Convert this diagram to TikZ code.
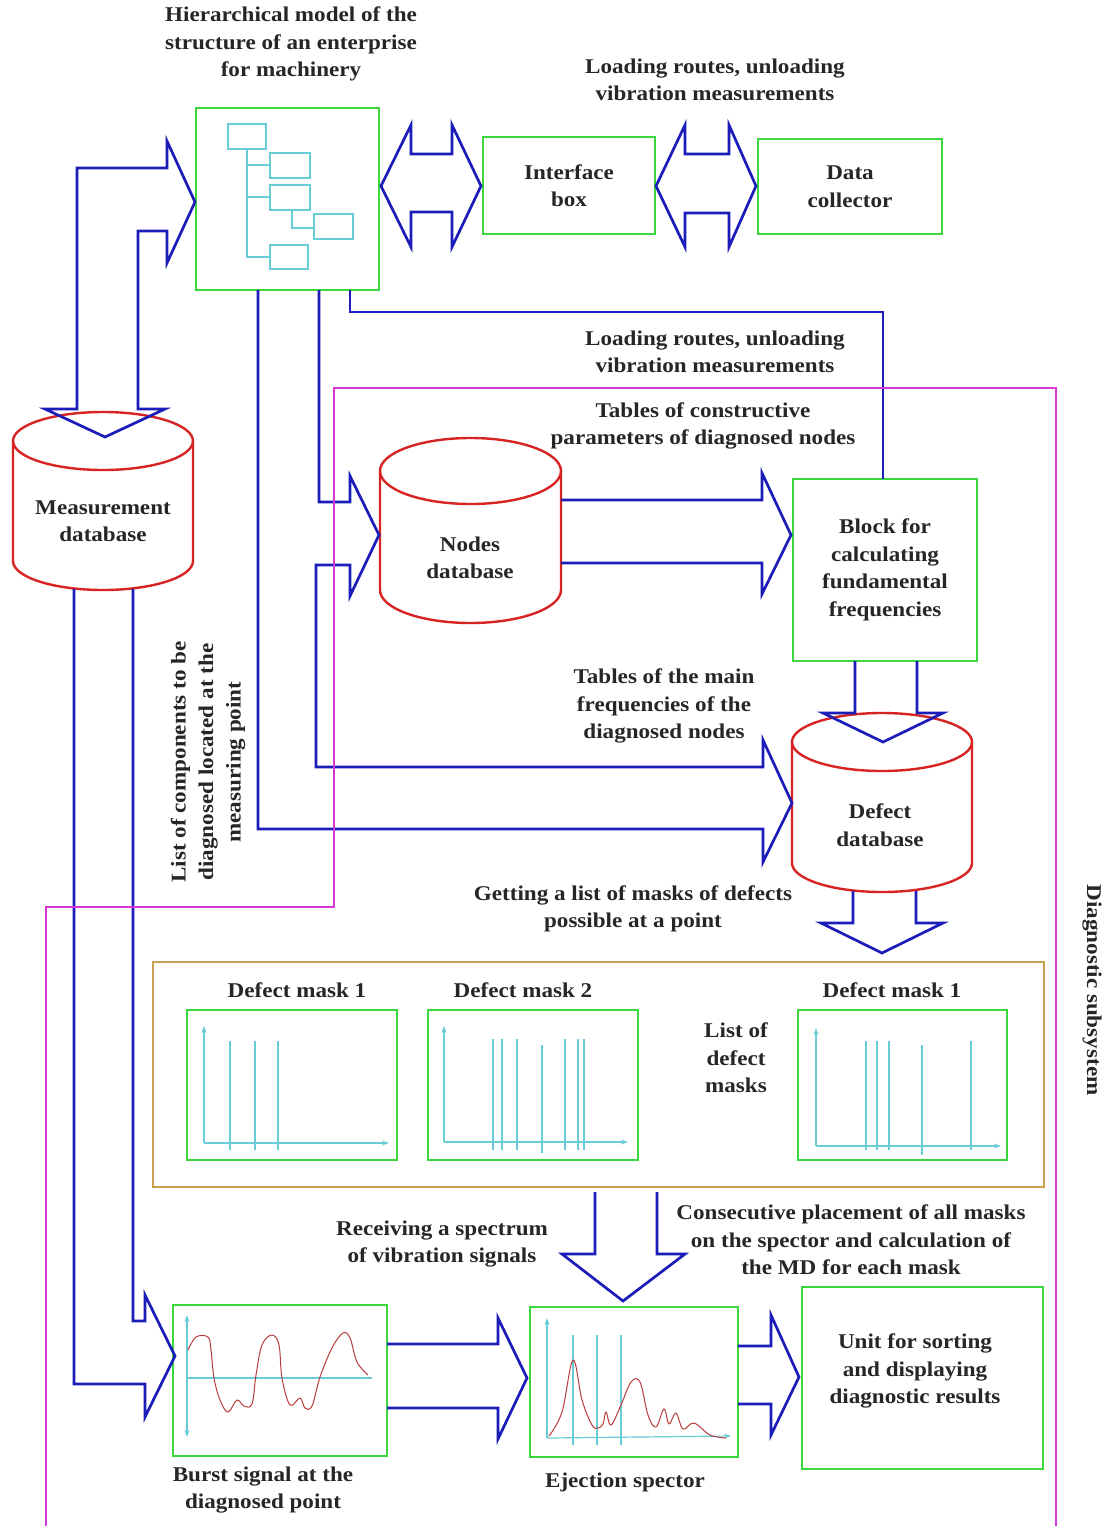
\documentclass[tikz,border=0pt]{standalone}
\usepackage{fontspec}
\setmainfont{Liberation Serif}[FakeStretch=1.1]
\usetikzlibrary{arrows.meta}
\definecolor{arrblue}{RGB}{28,28,185}
\definecolor{boxgreen}{RGB}{60,215,60}
\definecolor{dbred}{RGB}{215,35,35}
\definecolor{cyanl}{RGB}{105,205,215}
\definecolor{tanc}{RGB}{200,160,80}
\definecolor{magc}{RGB}{215,55,215}
\definecolor{wavered}{RGB}{185,60,60}
\newcommand\dbcyl[5]{%
  \draw[dbline] (#1,#2) ellipse [x radius=#4, y radius=#5];
  \draw[dbline] (#1-#4,#2) -- (#1-#4,#3)
     .. controls (#1-#4,#3+0.5523*#5) and (#1-0.5523*#4,#3+#5) .. (#1,#3+#5)
     .. controls (#1+0.5523*#4,#3+#5) and (#1+#4,#3+0.5523*#5) .. (#1+#4,#3)
     -- (#1+#4,#2);}
\begin{document}
\begin{tikzpicture}[x=1pt,y=-1pt,
  barrow/.style={draw=arrblue,line width=2.7pt,line join=miter},
  gbox/.style={draw=boxgreen,line width=2.8pt,inner sep=0pt},
  dbline/.style={draw=dbred,line width=2.4pt},
  thin/.style={draw=cyanl,line width=1.2pt},
  axis/.style={draw=cyanl,line width=1.2pt,-{Stealth[length=7pt,width=5pt]}},
  wave/.style={draw=wavered,line width=1pt},
  lbl/.style={font=\bfseries\fontsize{21}{27.5}\selectfont,align=center,inner sep=0pt,text=black!85}]
\useasboundingbox[fill=white] (0,0) rectangle (1105,1526);

% ---------- boxes ----------
\node[gbox,minimum width=183,minimum height=182] (hier) at (287.5,199) {};
\node[gbox,minimum width=172,minimum height=97,lbl] (iface) at (569,185.5) {Interface\\box};
\node[gbox,minimum width=184,minimum height=95,lbl] (coll) at (850,186.5) {Data\\collector};
\node[gbox,minimum width=184,minimum height=182,lbl] (calc) at (885,570) {Block for\\calculating\\fundamental\\frequencies};
\node[gbox,minimum width=241,minimum height=182] (unit) at (922.5,1378) {};
\node[lbl] (unitt) at (915,1371) {Unit for sorting\\and displaying\\diagnostic results};
\node[draw=tanc,line width=2.4pt,minimum width=891,minimum height=225,inner sep=0pt] (list) at (598.5,1074.5) {};
\node[gbox,minimum width=210,minimum height=150] (m1) at (292,1085) {};
\node[gbox,minimum width=210,minimum height=150] (m2) at (533,1085) {};
\node[gbox,minimum width=209,minimum height=150] (m3) at (902.5,1085) {};
\node[gbox,minimum width=214,minimum height=151] (burst) at (280,1380.5) {};
\node[gbox,minimum width=208,minimum height=150] (eject) at (634,1382) {};

% ---------- hierarchy tree ----------
\foreach \a/\b/\c/\d in {228/124/266/149,270/153/310/178,270/185/310/210,314/214/353/239,270/245/308/269}
  \draw[thin] (\a,\b) rectangle (\c,\d);
\draw[thin] (247,149) -- (247,257) -- (270,257);
\draw[thin] (247,165) -- (270,165);
\draw[thin] (247,197) -- (270,197);
\draw[thin] (292,210) -- (292,228) -- (314,228);

% ---------- databases ----------
\dbcyl{103}{441}{561}{90}{29}
\dbcyl{470.5}{471}{590}{90.5}{33}
\dbcyl{882}{742}{863}{90}{29}
\node[lbl] (mdb) at (103,521) {Measurement\\database};
\node[lbl] (ndb) at (470,558) {Nodes\\database};
\node[lbl] (ddb) at (880,825) {Defect\\database};

% ---------- block arrows ----------
\draw[barrow] (77,409) -- (77,168) -- (167,168) -- (167,141) -- (195,202) -- (167,263) -- (167,231)
  -- (138,231) -- (138,409) -- (165,409) -- (105,437) -- (45,409) -- cycle;
\draw[barrow] (411,154) -- (411,125) -- (381,186) -- (411,247) -- (411,212) -- (452,212)
  -- (452,247) -- (481,186) -- (452,125) -- (452,154) -- cycle;
\draw[barrow] (685,154) -- (685,125) -- (656,186) -- (685,247) -- (685,213) -- (729,213)
  -- (729,247) -- (756,186) -- (729,125) -- (729,154) -- cycle;
\draw[barrow] (350,290) -- (350,312) -- (883,312) -- (883,479);
\draw[barrow] (319,290) -- (319,502) -- (350,502) -- (350,476) -- (379,535) -- (350,596) -- (350,565)
  -- (316,565) -- (316,767) -- (763,767) -- (763,740) -- (792,803) -- (763,862) -- (763,829)
  -- (258,829) -- (258,290);
\draw[barrow] (561,500) -- (762,500) -- (762,473) -- (791,535) -- (762,594) -- (762,563) -- (561,563);
\draw[barrow] (855,661) -- (855,713) -- (823,713) -- (883,742) -- (943,713) -- (917,713) -- (917,661);
\draw[barrow] (853,891) -- (853,923) -- (821,923) -- (882,953) -- (943,923) -- (916,923) -- (916,891);
\draw[barrow] (595,1192) -- (595,1254) -- (562,1254) -- (623,1301) -- (685,1254) -- (657,1254) -- (657,1192);
\draw[barrow] (133,589) -- (133,1321) -- (145,1321) -- (145,1295) -- (175,1356) -- (145,1417) -- (145,1384)
  -- (74,1384) -- (74,589);
\draw[barrow] (387,1344) -- (498,1344) -- (498,1318) -- (527,1378) -- (498,1439) -- (498,1408) -- (387,1408);
\draw[barrow] (738,1346) -- (771,1346) -- (771,1315) -- (799,1377) -- (771,1435) -- (771,1404) -- (738,1404);

% ---------- subsystem border ----------
\draw[draw=magc,line width=2.4pt] (46,1526) -- (46,907) -- (334,907) -- (334,388) -- (1056,388) -- (1056,1526);

% ---------- mask graphs ----------
\draw[axis] (204,1143) -- (204,1026);
\draw[axis] (204,1143) -- (389,1143);
\foreach \x in {230,255,278} \draw[thin] (\x,1041) -- (\x,1150);
\draw[axis] (444,1142) -- (444,1026);
\draw[axis] (444,1142) -- (628,1142);
\foreach \x in {493,502,517,565,578,584} \draw[thin] (\x,1039) -- (\x,1150);
\draw[thin] (542,1045) -- (542,1153);
\draw[axis] (816,1146) -- (816,1028);
\draw[axis] (816,1146) -- (1001,1146);
\foreach \x in {866,877,889,971} \draw[thin] (\x,1041) -- (\x,1150);
\draw[thin] (922,1045) -- (922,1155);

% ---------- burst signal ----------
\draw[thin,{Stealth[length=7pt,width=5pt]}-{Stealth[length=7pt,width=5pt]}] (187,1315) -- (187,1437);
\draw[thin] (187,1378) -- (372,1378);
\draw[wave] plot[smooth,tension=0.6] coordinates {(188,1350) (196,1337) (208,1337) (211,1350) (214,1378) (220,1400) (228,1412)
  (237,1400) (244,1406) (252,1404) (256,1375) (262,1345) (272,1335) (279,1345) (282,1378) (290,1405)
  (300,1398) (305,1408) (312,1406) (320,1377) (332,1348) (343,1333) (350,1338) (357,1362) (368,1375)};

% ---------- ejection spectrum ----------
\draw[axis] (547,1438) -- (547,1318);
\draw[axis] (547,1438) -- (731,1436);
\foreach \x in {573,597,621} \draw[thin] (\x,1335) -- (\x,1445);
\draw[wave] plot[smooth,tension=0.6] coordinates {(549,1436) (562,1412) (573,1360) (582,1400) (592,1425) (598,1428)
  (603,1424) (606,1412) (611,1425) (621,1405) (631,1382) (640,1382) (648,1415) (656,1427) (664,1409)
  (669,1424) (676,1413) (683,1429) (694,1423) (710,1435) (726,1438)};

% ---------- labels ----------
\node[lbl] (t1) at (291,44) {Hierarchical model of the\\structure of an enterprise\\for machinery};
\node[lbl] (t2) at (715,80) {Loading routes, unloading\\vibration measurements};
\node[lbl] (t3) at (715,352) {Loading routes, unloading\\vibration measurements};
\node[lbl] (t4) at (703,426) {Tables of constructive\\parameters of diagnosed nodes};
\node[lbl] (t5) at (664,706) {Tables of the main\\frequencies of the\\diagnosed nodes};
\node[lbl] (t6) at (633,909) {Getting a list of masks of defects\\possible at a point};
\node[lbl] (t7) at (297,990) {Defect mask 1};
\node[lbl] (t8) at (523,990) {Defect mask 2};
\node[lbl] (t9) at (892,990) {Defect mask 1};
\node[lbl] (t10) at (736,1058) {List of\\defect\\masks};
\node[lbl] (t11) at (442,1244) {Receiving a spectrum\\of vibration signals};
\node[lbl] (t12) at (851,1240) {Consecutive placement of all masks\\on the spector and calculation of\\the MD for each mask};
\node[lbl] (t13) at (263,1490) {Burst signal at the\\diagnosed point};
\node[lbl] (t14) at (625,1482) {Ejection spector};
\node[lbl,rotate=90] (t15) at (208,762) {List of components to be\\diagnosed located at the\\measuring point};
\node[lbl,rotate=-90] (t16) at (1092,990) {Diagnostic subsystem};
\end{tikzpicture}
\end{document}
